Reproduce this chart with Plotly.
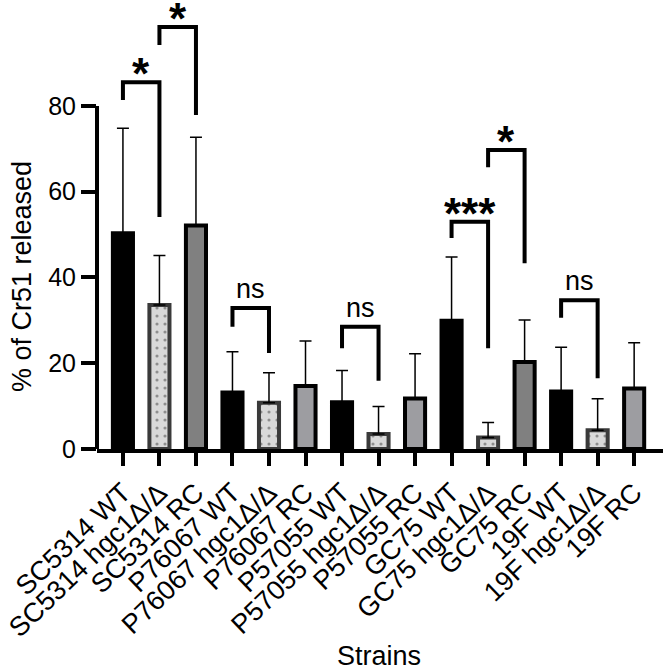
import plotly.graph_objects as go

strains = ["SC5314 WT", "SC5314 hgc1Δ/Δ", "SC5314 RC",
           "P76067 WT", "P76067 hgc1Δ/Δ", "P76067 RC",
           "P57055 WT", "P57055 hgc1Δ/Δ", "P57055 RC",
           "GC75 WT", "GC75 hgc1Δ/Δ", "GC75 RC",
           "19F WT", "19F hgc1Δ/Δ", "19F RC"]
means = [50.3, 33.6, 52.1, 13.2, 10.8, 14.7, 10.9, 3.5, 11.8, 29.9, 2.7, 20.3, 13.4, 4.4, 14.1]
sd = [24.5, 11.5, 20.6, 9.5, 7.0, 10.5, 7.4, 6.4, 10.4, 14.9, 3.5, 9.8, 10.3, 7.3, 10.7]
kinds = ["WT", "KO", "RCd", "WT", "KO", "RCl", "WT", "KO", "RCl",
         "WT", "KO", "RCd", "WT", "KO", "RCl"]
y_ticks = [0, 20, 40, 60, 80]

# significance brackets: left bar, right bar, top, left leg end, right leg end, label
br_left = [0, 1, 3, 6, 9, 10, 12]
br_right = [1, 2, 4, 7, 10, 11, 13]
br_top = [85.5, 98.4, 32.9, 28.5, 53.0, 69.7, 34.7]
br_lend = [81.4, 94.2, 28.5, 23.5, 49.2, 65.7, 30.6]
br_rend = [54.1, 77.9, 22.4, 15.9, 23.5, 43.3, 16.5]
br_label = ["*", "*", "ns", "ns", "***", "*", "ns"]

FONT = "Liberation Sans, Arial, sans-serif"
fill = {"WT": "#000000", "KO": "#d9d9d9", "RCd": "#808080", "RCl": "#9d9da1"}
edge = {"WT": "#000000", "KO": "#3a3a3a", "RCd": "#000000", "RCl": "#000000"}

x = list(range(len(strains)))
fig = go.Figure()
fig.add_trace(go.Bar(
    x=x, y=means, width=0.55,
    marker=dict(
        color=[fill[k] for k in kinds],
        line=dict(color=[edge[k] for k in kinds], width=4),
        pattern=dict(shape=["." if k == "KO" else "" for k in kinds],
                     fgcolor="black", bgcolor="#d9d9d9", size=8, solidity=0.12),
    ),
    error_y=dict(type="data", symmetric=False, array=sd, arrayminus=[0] * len(sd),
                 color="black", thickness=1.5, width=6),
    showlegend=False,
))

for l, r, t, le, re_, lab in zip(br_left, br_right, br_top, br_lend, br_rend, br_label):
    fig.add_shape(type="path",
                  path=f"M {l},{le} L {l},{t} L {r},{t} L {r},{re_}",
                  line=dict(color="black", width=4), layer="above")
    is_star = "*" in lab
    fig.add_annotation(x=(l + r) / 2, y=t, text=f"<b>{lab}</b>" if is_star else lab,
                       showarrow=False, yanchor="bottom",
                       yshift=-18 if is_star else 2,
                       font=dict(family=FONT, size=44 if is_star else 27, color="black"))

# y axis line only from 0 to 80
fig.add_shape(type="line", xref="paper", x0=0, x1=0, yref="y", y0=-0.5, y1=80,
              line=dict(color="black", width=4))

fig.add_annotation(xref="paper", yref="paper", x=(22 - 97) / 566, y=(449 - 277) / 449,
                   xanchor="center", yanchor="middle",
                   text="% of Cr51 released", textangle=-90, showarrow=False,
                   font=dict(family=FONT, size=27, color="black"))
fig.add_annotation(xref="paper", yref="paper", x=(379 - 97) / 566, y=(449 - 656) / 449,
                   xanchor="center", yanchor="middle",
                   text="Strains", showarrow=False,
                   font=dict(family=FONT, size=27, color="black"))

fig.update_layout(
    width=666, height=670,
    margin=dict(l=97, r=3, t=0, b=221),
    paper_bgcolor="white", plot_bgcolor="white",
    font=dict(family=FONT, color="black"),
    xaxis=dict(range=[-0.71, 14.79], tickmode="array", tickvals=x, ticktext=strains,
               tickangle=-44, showline=True, linecolor="black", linewidth=4,
               ticks="outside", ticklen=13, tickwidth=3.5, tickcolor="black",
               showgrid=False, zeroline=False, tickfont=dict(family=FONT, size=27)),
    yaxis=dict(range=[0, 104.7], tickmode="array", tickvals=y_ticks,
               showline=False, ticks="outside", ticklen=15, tickwidth=4, tickcolor="black",
               showgrid=False, zeroline=False, tickfont=dict(family=FONT, size=25)),
)
fig.write_html("out.html", config={"displayModeBar": False},
               post_script="document.body.style.margin='0';document.body.style.overflow='hidden';")
